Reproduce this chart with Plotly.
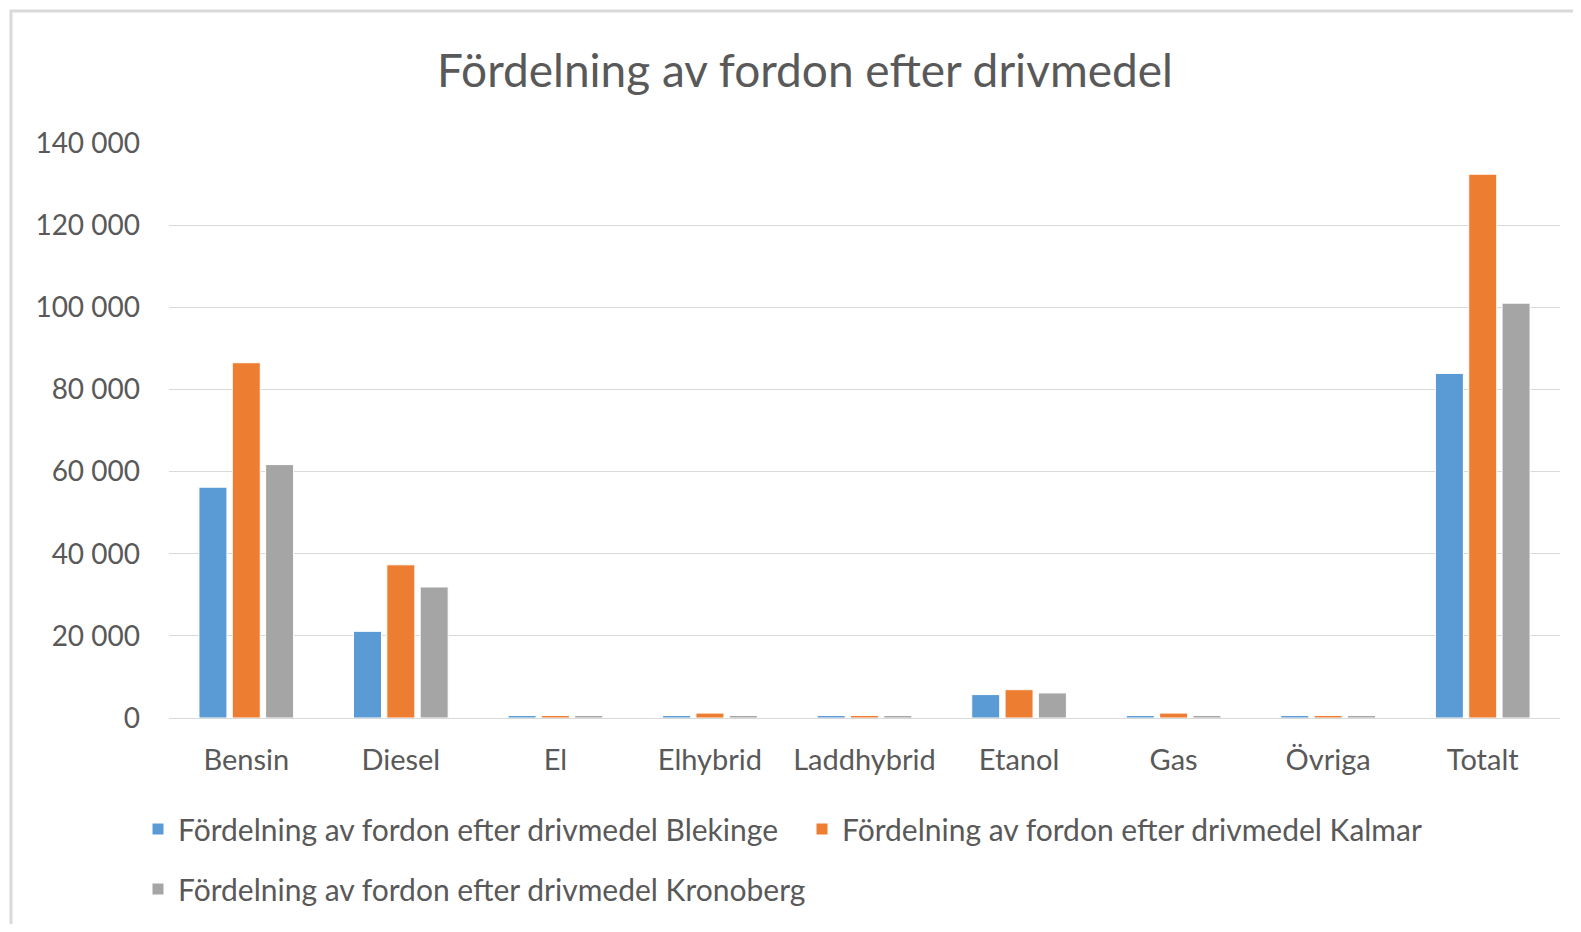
import plotly.graph_objects as go

categories = ["Bensin", "Diesel", "El", "Elhybrid", "Laddhybrid", "Etanol", "Gas", "Övriga", "Totalt"]
blekinge = [56200, 21100, 600, 600, 600, 5700, 600, 600, 83900]
kalmar = [86500, 37300, 600, 1200, 600, 6900, 1200, 600, 132400]
kronoberg = [61700, 31900, 600, 600, 600, 6100, 600, 600, 101000]
series_names = [
    "Fördelning av fordon efter drivmedel Blekinge",
    "Fördelning av fordon efter drivmedel Kalmar",
    "Fördelning av fordon efter drivmedel Kronoberg",
]
colors = ["#5B9BD5", "#ED7D31", "#A5A5A5"]
legend_ids = ["legend", "legend", "legend2"]
ytickvals = [0, 20000, 40000, 60000, 80000, 100000, 120000, 140000]

FONT = "Lato"
TXT = "#595959"

fig = go.Figure()
for name, vals, col, lg in zip(series_names, [blekinge, kalmar, kronoberg], colors, legend_ids):
    fig.add_trace(go.Bar(
        x=categories, y=vals, name=name, legend=lg,
        marker=dict(color=col, line=dict(color="white", width=1)),
    ))

# page body has an 8px margin, so the figure is sized to fit the window
W, H = 1565, 916
L, R, T, B = 161, 13, 135, 206
pw = W - L - R
ph = H - T - B


def px2paper_x(px):
    return (px - L) / pw


def px2paper_y(py):
    return (H - B - py) / ph


fig.update_layout(
    width=W, height=H,
    margin=dict(l=L, r=R, t=T, b=B, autoexpand=False),
    paper_bgcolor="white", plot_bgcolor="white",
    separators=", ",
    font=dict(family=FONT, color=TXT, size=28),
    title=dict(text="Fördelning av fordon efter drivmedel", x=797 / W, xref="container",
               y=1 - 63 / H, yref="container", yanchor="middle", xanchor="center",
               font=dict(family=FONT, size=46, color=TXT)),
    barmode="group", bargap=0.353, bargroupgap=0.16,
    xaxis=dict(showgrid=False, showline=True, linecolor="#D9D9D9", linewidth=1,
               tickfont=dict(family=FONT, size=29, color=TXT), ticks="",
               ticklabelstandoff=16, fixedrange=True),
    yaxis=dict(range=[0, 140000], tickvals=ytickvals, tickformat=",d",
               showgrid=True, gridcolor="#D9D9D9", gridwidth=1,
               zeroline=False, showline=False,
               tickfont=dict(family=FONT, size=28, color=TXT),
               ticklabelstandoff=28, fixedrange=True),
    legend=dict(orientation="h", x=px2paper_x(130), xanchor="left",
                y=px2paper_y(795), yanchor="top",
                font=dict(family=FONT, size=30, color=TXT),
                entrywidth=619, entrywidthmode="pixels",
                traceorder="normal"),
    legend2=dict(orientation="h", x=px2paper_x(130), xanchor="left",
                 y=px2paper_y(855), yanchor="top",
                 font=dict(family=FONT, size=30, color=TXT),
                 traceorder="normal"),
    shapes=[dict(type="rect", xref="paper", yref="paper",
                 x0=px2paper_x(3), x1=px2paper_x(1650),
                 y0=px2paper_y(1000), y1=px2paper_y(3),
                 line=dict(color="#D9D9D9", width=3), fillcolor="rgba(0,0,0,0)",
                 layer="below")],
)

fig.write_html("out.html")
